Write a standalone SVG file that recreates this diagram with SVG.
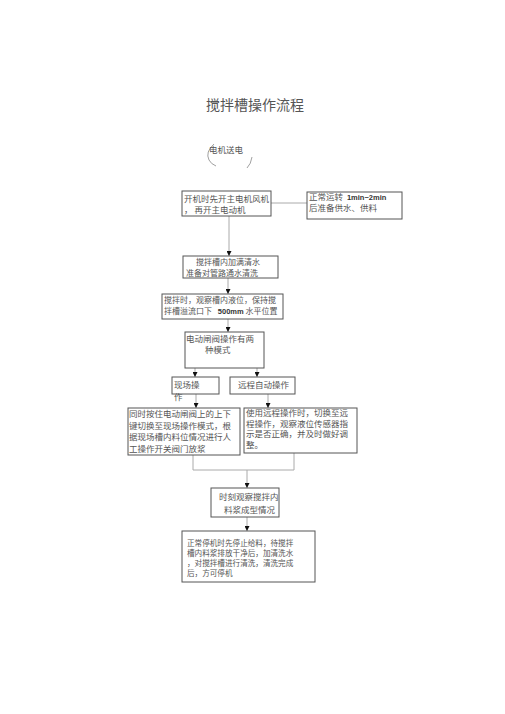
<svg xmlns="http://www.w3.org/2000/svg" width="505" height="714" viewBox="0 0 505 714">
<style>
.bg{fill:#ffffff}
.box{fill:#ffffff;stroke:#555555;stroke-width:1}
.t{font-family:"Noto Sans CJK SC","Noto Sans",sans-serif;font-size:8.5px;fill:#555555}
.s{font-size:8px}
.b{font-family:"Liberation Sans",Arial,sans-serif;font-weight:bold;font-size:7.5px;fill:#333333}
.title{font-family:"Noto Sans CJK SC","Noto Sans",sans-serif;font-size:14px;fill:#555555}
.ln{fill:none;stroke:#aaaaaa;stroke-width:1}
.arc{fill:none;stroke:#888888;stroke-width:0.8}
</style>
<defs>
<marker id="ah" viewBox="0 0 10 10" refX="10" refY="5" markerWidth="5" markerHeight="5" orient="auto" markerUnits="userSpaceOnUse">
<path d="M0,0 L10,5 L0,10 Z" fill="#111111"/>
</marker>
</defs>
<rect class="bg" x="0" y="0" width="505" height="714"/>
<text class="title" x="206" y="110">搅拌槽操作流程</text>

<g id="n0">
<path class="arc" d="M214,144 Q205,152 209,160 Q211,164 216,166"/>
<path class="arc" d="M252,157 Q251,164 247,168"/>
<text class="t" x="209" y="153">电机送电</text>
</g>

<g id="connectors">
<line class="ln" x1="271" y1="203" x2="307" y2="203"/>
<line class="ln" x1="229" y1="216" x2="229" y2="256" marker-end="url(#ah)"/>
<line class="ln" x1="228" y1="278" x2="228" y2="294" marker-end="url(#ah)"/>
<line class="ln" x1="228" y1="319" x2="228" y2="332" marker-end="url(#ah)"/>
<line class="ln" x1="195" y1="368" x2="195" y2="377" marker-end="url(#ah)"/>
<line class="ln" x1="257" y1="368" x2="257" y2="377" marker-end="url(#ah)"/>
<line class="ln" x1="196" y1="394" x2="196" y2="408" marker-end="url(#ah)"/>
<line class="ln" x1="268" y1="394" x2="268" y2="408" marker-end="url(#ah)"/>
<polyline class="ln" points="193,455 193,470 294,470 294,453"/>
<line class="ln" x1="247" y1="470" x2="247" y2="488" marker-end="url(#ah)"/>
<line class="ln" x1="247" y1="517" x2="247" y2="531" marker-end="url(#ah)"/>
</g>

<g id="n1">
<rect class="box" x="182" y="191" width="89" height="25"/>
<text class="t" x="184" y="202">开机时先开主电机风机</text>
<text class="t" x="184" y="213">，  再开主电动机</text>
</g>

<g id="n2">
<rect class="box" x="307" y="192" width="95" height="27"/>
<text class="t" x="309" y="200">正常运转 <tspan class="b" dx="2">1min~2min</tspan></text>
<text class="t" x="309" y="211">后准备供水、供料</text>
</g>

<g id="n3">
<rect class="box" x="183" y="256" width="95" height="22"/>
<text class="t s" x="196" y="264.5">搅拌槽内加满清水</text>
<text class="t s" x="186" y="275.5">准备对管路通水清洗</text>
</g>

<g id="n4">
<rect class="box" x="162" y="294" width="121" height="25"/>
<text class="t s" x="164" y="302.5">搅拌时，观察槽内液位，保持搅</text>
<text class="t s" x="164" y="314">拌槽溢流口下 <tspan class="b" dx="4">500mm</tspan> 水平位置</text>
</g>

<g id="n5">
<rect class="box" x="185" y="332" width="79" height="36"/>
<text class="t" x="186" y="342">电动闸阀操作有两</text>
<text class="t" x="205" y="353">种模式</text>
</g>

<g id="n6">
<rect class="box" x="172" y="377" width="47" height="17"/>
<text class="t" x="174" y="388">现场操</text>
<text class="t" x="174" y="400">作</text>
</g>

<g id="n7">
<rect class="box" x="230" y="377" width="65" height="17"/>
<text class="t" x="238" y="388">远程自动操作</text>
</g>

<g id="n8">
<rect class="box" x="128" y="408" width="112" height="47"/>
<text class="t" x="129" y="417">同时按住电动闸阀上的上下</text>
<text class="t" x="129" y="428.5">键切换至现场操作模式，根</text>
<text class="t" x="129" y="440">据现场槽内料位情况进行人</text>
<text class="t" x="129" y="451.5">工操作开关阀门放浆</text>
</g>

<g id="n9">
<rect class="box" x="244" y="408" width="113" height="45"/>
<text class="t" x="246" y="416">使用远程操作时，切换至远</text>
<text class="t" x="246" y="426.5">程操作，观察液位传感器指</text>
<text class="t" x="246" y="437">示是否正确，并及时做好调</text>
<text class="t" x="246" y="447.5">整。</text>
</g>

<g id="n10">
<rect class="box" x="211" y="488" width="68" height="29"/>
<text class="t" x="219" y="500">时刻观察搅拌内</text>
<text class="t" x="224" y="513">料浆成型情况</text>
</g>

<g id="n11">
<rect class="box" x="182" y="531" width="133" height="51"/>
<text class="t" x="187" y="546" style="font-size:7.6px">正常停机时先停止给料，待搅拌</text>
<text class="t" x="187" y="556" style="font-size:7.6px">槽内料浆排放干净后，加清洗水</text>
<text class="t" x="187" y="566" style="font-size:7.6px">，对搅拌槽进行清洗，清洗完成</text>
<text class="t" x="187" y="576" style="font-size:7.6px">后，方可停机</text>
</g>
</svg>
